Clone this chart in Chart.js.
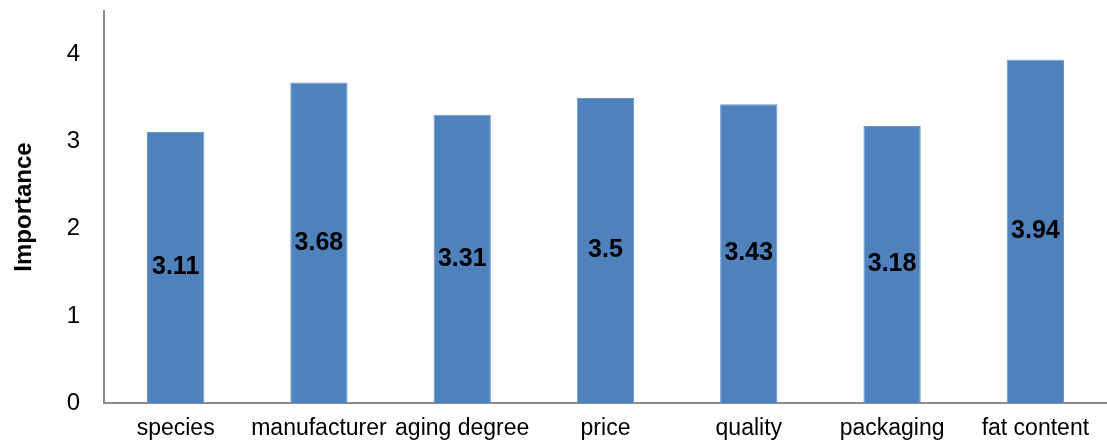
<!DOCTYPE html>
<html lang="en">
<head>
  <meta charset="UTF-8" />
  <title>Importance</title>
  <script src="https://cdn.jsdelivr.net/npm/chart.js"></script>
  <style>
    html, body {
      margin: 0;
      padding: 0;
      background: #fff;
    }
    .wrap {
      width: 1107px;
      height: 444px;
    }
  </style>
</head>
<body>
  <div class="wrap"><canvas id="chart"></canvas></div>

  <script>
    const categories = ['species', 'manufacturer', 'aging degree', 'price', 'quality', 'packaging', 'fat content'];
    const importance = [3.11, 3.68, 3.31, 3.5, 3.43, 3.18, 3.94];
    const yTicks = [0, 1, 2, 3, 4];

    const font = 'Liberation Sans, Arial, sans-serif';

    // value labels in the middle of each bar
    const midLabels = {
      id: 'midLabels',
      afterDatasetsDraw(chart) {
        const ctx = chart.ctx;
        const meta = chart.getDatasetMeta(0);
        ctx.save();
        ctx.font = 'bold 25px ' + font;
        ctx.fillStyle = '#000';
        ctx.textAlign = 'center';
        ctx.textBaseline = 'middle';
        meta.data.forEach((bar, i) => {
          const y = (bar.y + bar.base) / 2;
          ctx.fillText(String(importance[i]), bar.x, y);
        });
        ctx.restore();
      }
    };

    new Chart(document.getElementById('chart'), {
      type: 'bar',
      data: {
        labels: categories,
        datasets: [{
          data: importance,
          backgroundColor: '#4F81BD',
          borderColor: '#6C96C8',
          borderWidth: 1,
          barPercentage: 0.4,
          categoryPercentage: 1
        }]
      },
      options: {
        responsive: true,
        maintainAspectRatio: false,
        animation: false,
        layout: { padding: { top: 11, left: 10, right: 0, bottom: 0 } },
        plugins: {
          legend: { display: false },
          tooltip: { enabled: false }
        },
        scales: {
          x: {
            grid: { display: false, drawTicks: false },
            border: { display: true, color: '#8c8c8c', width: 2 },
            ticks: {
              color: '#000',
              font: { family: font, size: 23 },
              padding: 12,
              maxRotation: 0,
              autoSkip: false
            },
            afterFit(scale) {
              scale.height = 41;
              scale.paddingTop = 0;
              scale.paddingBottom = 0;
            }
          },
          y: {
            min: 0,
            max: 4.5,
            grid: { display: false, drawTicks: false },
            border: { display: true, color: '#8c8c8c', width: 2 },
            afterBuildTicks(axis) {
              axis.ticks = yTicks.map(v => ({ value: v }));
            },
            afterFit(scale) {
              scale.width = 94;
              scale.paddingTop = 0;
              scale.paddingBottom = 0;
            },
            ticks: {
              color: '#000',
              font: { family: font, size: 24 },
              padding: 24
            },
            title: {
              display: true,
              text: 'Importance',
              color: '#000',
              font: { family: font, size: 24, weight: 'bold' },
              padding: { top: 0, bottom: 14 }
            }
          }
        }
      },
      plugins: [midLabels]
    });
  </script>
</body>
</html>
